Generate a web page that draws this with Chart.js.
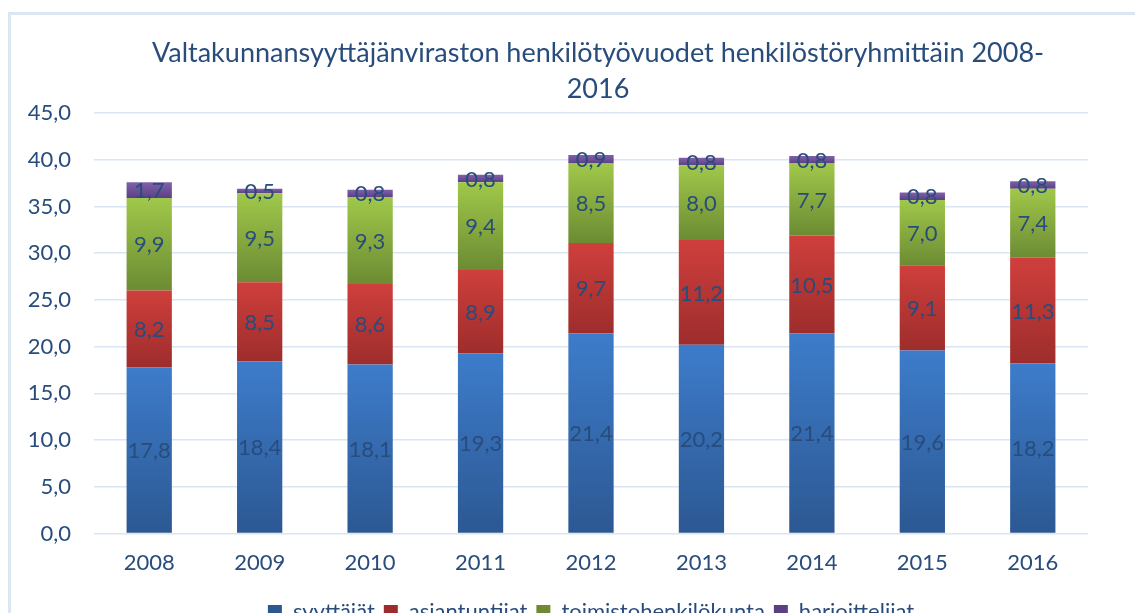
<!DOCTYPE html>
<html>
<head>
<meta charset="utf-8">
<script src="https://cdn.jsdelivr.net/npm/chart.js@4.4.1/dist/chart.umd.min.js"></script>
<style>
  html, body { margin: 0; padding: 0; width: 1135px; height: 613px; overflow: hidden; background: #fff; }
  #frame { position: absolute; left: 8px; top: 12px; width: 1300px; height: 800px;
           border-left: 3px solid #dbe6f3; border-top: 3px solid #dbe6f3; box-sizing: border-box; }
  #wrap { position: absolute; left: 0; top: 0; width: 1196px; height: 633px; }
</style>
</head>
<body>
<div id="frame"></div>
<div id="wrap"><canvas id="c" width="1196" height="633"></canvas></div>
<script>
const years = ['2008', '2009', '2010', '2011', '2012', '2013', '2014', '2015', '2016'];
const syyttajat = [17.8, 18.4, 18.1, 19.3, 21.4, 20.2, 21.4, 19.6, 18.2];
const asiantuntijat = [8.2, 8.5, 8.6, 8.9, 9.7, 11.2, 10.5, 9.1, 11.3];
const toimistohenkilokunta = [9.9, 9.5, 9.3, 9.4, 8.5, 8.0, 7.7, 7.0, 7.4];
const harjoittelijat = [1.7, 0.5, 0.8, 0.8, 0.9, 0.8, 0.8, 0.8, 0.8];
const seriesNames = ['syyttäjät', 'asiantuntijat', 'toimistohenkilökunta', 'harjoittelijat'];
const yTicks = [0, 5, 10, 15, 20, 25, 30, 35, 40, 45];

const seriesData = [syyttajat, asiantuntijat, toimistohenkilokunta, harjoittelijat];
const palette = [
  { solid: '#3a75c0', top: '#3d7ccb', bottom: '#2c5892' },
  { solid: '#c0393b', top: '#cf3f3c', bottom: '#9d2d2c' },
  { solid: '#9bbb59', top: '#a0c84a', bottom: '#6c8b33' },
  { solid: '#8064a2', top: '#8062ab', bottom: '#5c3f84' }
];
const textColor = '#284c7c';
const FONT = 'Lato, "Open Sans", sans-serif';

function makeBg(si) {
  return function (ctx) {
    const p = palette[si];
    if (ctx.dataIndex === undefined) return p.solid;
    const chart = ctx.chart;
    const y = chart.scales && chart.scales.y;
    if (!chart.chartArea || !y) return p.solid;
    let start = 0;
    for (let k = 0; k < si; k++) start += seriesData[k][ctx.dataIndex];
    const end = start + seriesData[si][ctx.dataIndex];
    const y0 = y.getPixelForValue(start);
    const y1 = y.getPixelForValue(end);
    if (!isFinite(y0) || !isFinite(y1) || y0 === y1) return p.solid;
    const g = chart.ctx.createLinearGradient(0, y1, 0, y0);
    g.addColorStop(0, p.top);
    g.addColorStop(1, p.bottom);
    return g;
  };
}

const valueLabels = {
  id: 'valueLabels',
  afterDatasetsDraw(chart) {
    const c = chart.ctx;
    c.save();
    c.font = '22px ' + FONT;
    c.fillStyle = textColor;
    c.textAlign = 'center';
    c.textBaseline = 'middle';
    chart.data.datasets.forEach((ds, di) => {
      const meta = chart.getDatasetMeta(di);
      meta.data.forEach((el, i) => {
        const v = ds.data[i];
        const txt = v.toFixed(1).replace('.', ',');
        c.fillText(txt, el.x, (el.y + el.base) / 2 + 1);
      });
    });
    c.restore();
  }
};

new Chart(document.getElementById('c'), {
  type: 'bar',
  data: {
    labels: years,
    datasets: seriesData.map((d, i) => ({
      label: seriesNames[i],
      data: d,
      backgroundColor: makeBg(i),
      borderWidth: 0,
      categoryPercentage: 1.0,
      barPercentage: 0.41
    }))
  },
  options: {
    responsive: false,
    animation: false,
    devicePixelRatio: 1,
    layout: { padding: { left: 0, right: 0, top: 0, bottom: 0 } },
    plugins: {
      title: {
        display: true,
        text: ['Valtakunnansyyttäjänviraston henkilötyövuodet henkilöstöryhmittäin 2008-', '2016'],
        color: textColor,
        font: { family: FONT, size: 27, weight: 'normal', lineHeight: 1.333 },
        padding: { top: 35, bottom: 6 }
      },
      legend: {
        position: 'bottom',
        fullSize: false,
        labels: {
          color: textColor,
          font: { family: FONT, size: 22 },
          boxWidth: 14,
          boxHeight: 14,
          padding: 9
        }
      },
      tooltip: { enabled: false }
    },
    scales: {
      x: {
        stacked: true,
        grid: { display: false, drawTicks: false },
        border: { display: false },
        ticks: { color: textColor, font: { family: FONT, size: 22 }, padding: 16 }
      },
      y: {
        stacked: true,
        min: 0,
        max: 45,
        afterBuildTicks(axis) { axis.ticks = yTicks.map(v => ({ value: v })); },
        afterFit(axis) { axis.width = 94; },
        grid: { color: '#dae5f3', lineWidth: 1.5, drawTicks: false },
        border: { display: false },
        ticks: {
          color: textColor,
          font: { family: FONT, size: 22 },
          padding: 23,
          callback: v => Number(v).toFixed(1).replace('.', ',')
        }
      },
      spacer: {
        type: 'linear',
        position: 'right',
        display: true,
        min: 0,
        max: 1,
        grid: { display: false, drawTicks: false },
        border: { display: false },
        ticks: { display: false },
        afterFit(axis) { axis.width = 108; }
      }
    }
  },
  plugins: [valueLabels]
});
</script>
</body>
</html>
